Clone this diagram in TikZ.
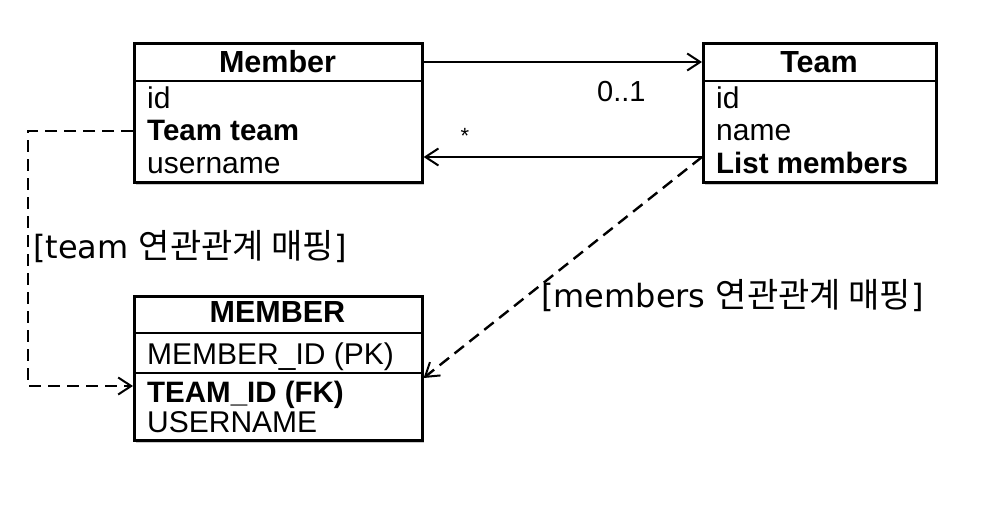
\documentclass[tikz,border=0pt]{standalone}
\usepackage{fontspec}
\setmainfont{Liberation Sans}
\newfontfamily\kr{Noto Sans CJK KR}
\newfontfamily\lab{DejaVu Sans}
\usetikzlibrary{arrows.meta,shadows}
\newcommand{\krtext}[1]{{\kr\fontsize{34}{38}\selectfont #1}}
\tikzset{
  box/.style={draw, line width=2.6pt, fill=white, inner sep=0pt, anchor=north west,
    drop shadow={shadow xshift=2pt, shadow yshift=-3pt, fill=black!60, opacity=0.35}},
  divider/.style={line width=2.4pt},
  title/.style={font=\fontsize{30.5}{34}\selectfont\bfseries, inner sep=0pt},
  row/.style={font=\fontsize{30}{34}\selectfont, inner sep=0pt, anchor=base west},
  rowb/.style={row, font=\fontsize{29.5}{34}\selectfont\bfseries},
  lbl/.style={font=\fontsize{29}{33}\selectfont, inner sep=0pt, anchor=base west},
  maplbl/.style={font=\fontsize{32}{36}\selectfont\lab, inner sep=0pt, anchor=base west},
  arr/.style={line width=2pt, -{Straight Barb[length=13pt,width=17pt,line width=2pt]}},
  darr/.style={line width=2.4pt, dash pattern=on 12pt off 7pt, -{Straight Barb[length=13pt,width=17pt,line width=2pt]}}
}
\begin{document}
\begin{tikzpicture}[x=1pt,y=-1pt]
\useasboundingbox (0,0) rectangle (1006,519);
% boxes
\node[box, minimum width=288pt, minimum height=139pt] (member) at (133,42) {};
\draw[divider] ([yshift=-39pt]member.north west) -- ([yshift=-39pt]member.north east);
\node[box, minimum width=233pt, minimum height=139pt] (team) at (702,42) {};
\draw[divider] ([yshift=-39pt]team.north west) -- ([yshift=-39pt]team.north east);
\node[box, minimum width=288pt, minimum height=144pt] (memtab) at (133,295) {};
\draw[divider] ([yshift=-38pt]memtab.north west) -- ([yshift=-38pt]memtab.north east);
\draw[divider] ([yshift=-78pt]memtab.north west) -- ([yshift=-78pt]memtab.north east);
% texts
\node[title] (mt) at (277.5,62) {Member};
\node[row] (m1) at (147,108) {id};
\node[rowb] (m2) at (147,140) {Team team};
\node[row] (m3) at (147,173) {username};
\node[title] (tt) at (819,62) {Team};
\node[row] (t1) at (716,108) {id};
\node[row] (t2) at (716,140) {name};
\node[rowb] (t3) at (716,173) {List members};
\node[title] (mtt) at (277.5,312.5) {MEMBER};
\node[row] (r1) at (147,364) {MEMBER\_ID (PK)};
\node[rowb] (r2) at (147,402) {TEAM\_ID (FK)};
\node[row] (r3) at (147,432) {USERNAME};
% connectors
\draw[arr] ([yshift=-20pt]member.north east) -- ([yshift=-20pt]team.north west);
\draw[arr] ([yshift=-115pt]team.north west) -- ([yshift=-115pt]member.north east);
\draw[darr] ([yshift=-89pt]member.north west) -- ++(-105,0) |- ([yshift=-91pt]memtab.north west);
\draw[darr] ([yshift=-115pt]team.north west) -- ([yshift=-83pt]memtab.north east);
% labels
\node[lbl] (l01) at (597,101) {0..1};
\node[font=\fontsize{22}{24}\selectfont, inner sep=0pt] (lstar) at (465,136) {*};
\node[maplbl] (lteam) at (33,258) {[team \krtext{연관관계 매핑}]};
\node[maplbl] (lmem) at (541,307) {[members \krtext{연관관계 매핑}]};
\end{tikzpicture}
\end{document}
